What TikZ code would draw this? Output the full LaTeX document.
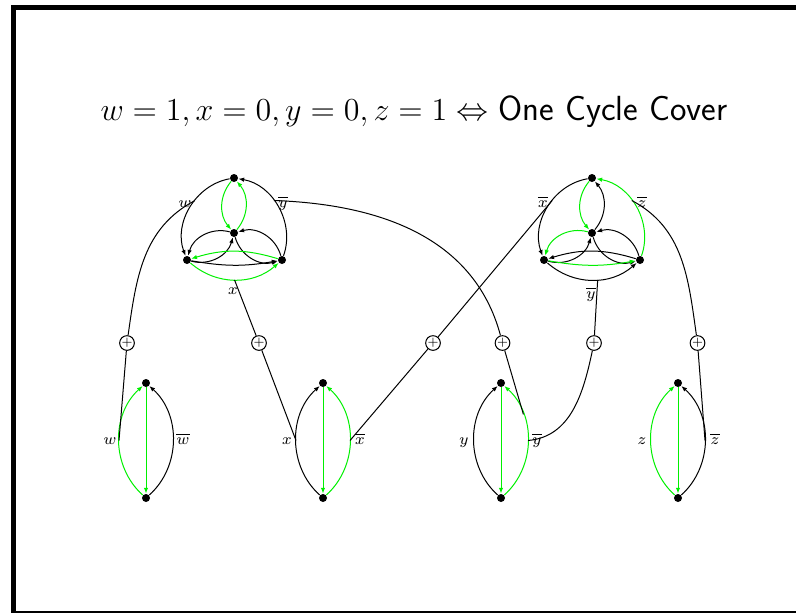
\documentclass[tikz,border=0pt]{standalone}
\usepackage{amsmath,amssymb}
\usetikzlibrary{arrows.meta}
\definecolor{covergreen}{RGB}{0,240,0}
\tikzset{vtx/.style={circle,fill,inner sep=0pt,minimum size=3.6pt},
 xorgate/.style={circle,draw,line width=0.45pt,inner sep=0pt,minimum size=6.3pt,font=\fontsize{5}{5}\selectfont},
 edge/.style={-{Latex[length=2.6pt,width=2pt]},line width=0.45pt},
 wire/.style={line width=0.45pt},
 lit/.style={font=\fontsize{7}{8}\selectfont,anchor=base},
 chosen/.style={covergreen}}

\begin{document}
\begin{tikzpicture}[x=0.45pt,y=0.45pt]
\useasboundingbox (0,0) rectangle (796,-612);
\draw[line width=2.25pt] (13.5,-7.5) rectangle (799.5,-613.5);
\node[anchor=base,font=\fontsize{15.7}{18}\selectfont] (title) at (414,-120)
 {$w=1,x=0,y=0,z=1\Leftrightarrow$ \textsf{One Cycle Cover}};

\node[vtx] (t1) at (234,-178) {};
\node[vtx] (c1) at (234,-233) {};
\node[vtx] (l1) at (187,-260) {};
\node[vtx] (r1) at (282,-260) {};
\draw[edge,chosen] (t1) to[bend right=40] (c1);
\draw[edge,chosen] (c1) to[bend right=40] (t1);
\draw[edge] (t1) to[bend right=50] coordinate[pos=0.42] (t1w) (l1);
\draw[edge] (r1) to[bend right=50] coordinate[pos=0.58] (r1y) (t1);
\draw[edge] (c1) to[bend right=45] (l1);
\draw[edge] (l1) to[bend right=45] (c1);
\draw[edge] (c1) to[bend right=45] (r1);
\draw[edge] (r1) to[bend right=45] (c1);
\draw[edge,chosen] (r1) to[bend right=17] (l1);
\draw[edge] (l1) to[bend right=10] (r1);
\draw[edge,chosen] (l1) to[bend right=41] coordinate[pos=0.5] (b1x) (r1);

\node[vtx] (t2) at (592,-178) {};
\node[vtx] (c2) at (592,-233) {};
\node[vtx] (l2) at (544,-260) {};
\node[vtx] (r2) at (640,-260) {};
\draw[edge,chosen] (t2) to[bend right=40] (c2);
\draw[edge] (c2) to[bend right=40] (t2);
\draw[edge] (t2) to[bend right=50] coordinate[pos=0.42] (t2x) (l2);
\draw[edge,chosen] (r2) to[bend right=50] coordinate[pos=0.58] (r2z) (t2);
\draw[edge,chosen] (c2) to[bend right=45] (l2);
\draw[edge] (l2) to[bend right=45] (c2);
\draw[edge] (c2) to[bend right=45] (r2);
\draw[edge] (r2) to[bend right=45] (c2);
\draw[edge] (r2) to[bend right=17] (l2);
\draw[edge,chosen] (l2) to[bend right=10] (r2);
\draw[edge] (l2) to[bend right=41] coordinate[pos=0.56] (b2y) (r2);

\node[vtx] (wt) at (146,-383) {};
\node[vtx] (wb) at (146,-498) {};
\draw[edge,chosen] (wt) -- (wb);
\draw[edge,chosen] (wb) to[bend left=48] coordinate[pos=0.5] (wpos) (wt);
\draw[edge] (wb) to[bend right=48] coordinate[pos=0.5] (wneg) (wt);

\node[vtx] (xt) at (323,-383) {};
\node[vtx] (xb) at (323,-498) {};
\draw[edge,chosen] (xt) -- (xb);
\draw[edge] (xb) to[bend left=48] coordinate[pos=0.5] (xpos) (xt);
\draw[edge,chosen] (xb) to[bend right=48] coordinate[pos=0.5] (xneg) (xt);

\node[vtx] (yt) at (501,-383) {};
\node[vtx] (yb) at (501,-498) {};
\draw[edge,chosen] (yt) -- (yb);
\draw[edge] (yb) to[bend left=48] coordinate[pos=0.5] (ypos) (yt);
\draw[edge,chosen] (yb) to[bend right=48] coordinate[pos=0.5] (yneg) coordinate[pos=0.72] (yneg2) (yt);

\node[vtx] (zt) at (678,-383) {};
\node[vtx] (zb) at (678,-498) {};
\draw[edge,chosen] (zt) -- (zb);
\draw[edge,chosen] (zb) to[bend left=48] coordinate[pos=0.5] (zpos) (zt);
\draw[edge] (zb) to[bend right=48] coordinate[pos=0.5] (zneg) (zt);

\node[xorgate] (p1) at (127,-343) {$+$};
\node[xorgate] (p2) at (259,-343) {$+$};
\node[xorgate] (p3) at (433,-343) {$+$};
\node[xorgate] (p4) at (502.5,-343) {$+$};
\node[xorgate] (p5) at (594,-343) {$+$};
\node[xorgate] (p6) at (697.5,-343) {$+$};

\draw[wire] (wpos) -- (p1) to[out=82,in=208] (t1w);
\draw[wire] (xpos) -- (p2) -- (b1x);
\draw[wire] (xneg) -- (p3) -- (t2x);
\draw[wire] (r1y) to[out=-2,in=105] (p4) -- (yneg2);
\draw[wire] (yneg) to[out=5,in=258] (p5) -- (b2y);
\draw[wire] (zneg) -- (p6) to[out=98,in=-28] (r2z);

\node[lit] (lw) at (110,-444) {$w$};
\node[lit] (lwn) at (183,-444) {$\overline{w}$};
\node[lit] (lx) at (287,-444) {$x$};
\node[lit] (lxn) at (360,-444) {$\overline{x}$};
\node[lit] (ly) at (464,-444) {$y$};
\node[lit] (lyn) at (537,-444) {$\overline{y}$};
\node[lit] (lz) at (642,-444) {$z$};
\node[lit] (lzn) at (715,-444) {$\overline{z}$};
\node[lit] (cw) at (185,-207) {$w$};
\node[lit] (cyn) at (283,-207) {$\overline{y}$};
\node[lit] (cx) at (233,-294) {$x$};
\node[lit] (cxn) at (543,-207) {$\overline{x}$};
\node[lit] (czn) at (642,-207) {$\overline{z}$};
\node[lit] (cyn2) at (591,-298) {$\overline{y}$};
\end{tikzpicture}
\end{document}
